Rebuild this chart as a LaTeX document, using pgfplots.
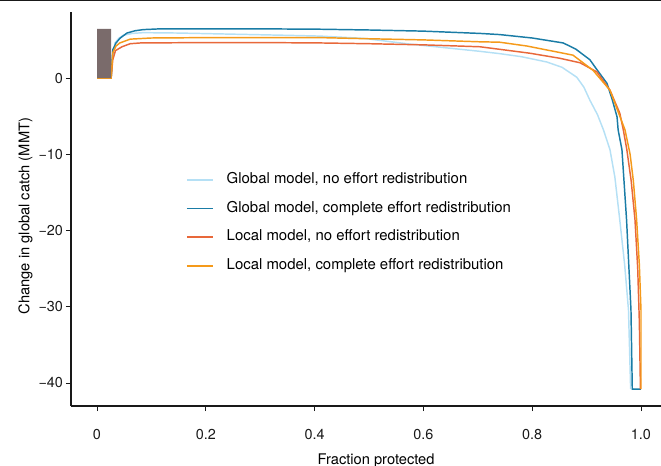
\documentclass[border=0pt]{standalone}
\usepackage{pgfplots}
\pgfplotsset{compat=1.18}
\usepackage{fontspec}
\setmainfont{TeX Gyre Heros}
\definecolor{lblue}{HTML}{B5E0F5}
\definecolor{dblue}{HTML}{1A7CA6}
\definecolor{lred}{HTML}{E8683A}
\definecolor{lorange}{HTML}{F59A1A}
\definecolor{rectc}{HTML}{7A6B6B}
\pgfplotsset{
  limg/.style={legend image code/.code={\draw[#1, line width=1.1pt] (0pt,0pt) -- (19.5pt,0pt); \path (24pt,0pt);}},
}
\begin{document}
\begin{tikzpicture}
\path[use as bounding box, clip] (-53.25pt,-44.25pt) rectangle (442.5pt,304.5pt);
\draw[line width=1.6pt, black!90] (-53.25pt,304.5pt) -- (442.5pt,304.5pt);
\begin{axis}[
  at={(0pt,0pt)}, anchor=south west,
  scale only axis,
  width=442.5pt, height=295.5pt,
  xmin=-0.0478, xmax=1.0368,
  ymin=-43.02, ymax=8.66,
  axis x line*=bottom, axis y line*=left,
  axis line style={-, line width=0.8pt, black!90},
  tick align=outside,
  major tick length=3.75pt,
  tick style={black!90, line width=0.6pt},
  xtick={0,0.2,0.4,0.6,0.8,1.0},
  xticklabels={0,0.2,0.4,0.6,0.8,1.0},
  ytick={-40,-30,-20,-10,0},
  yticklabels={−40,−30,−20,−10,0},
  ticklabel style={font=\fontsize{10.8}{12}\selectfont, black!90},
  xticklabel style={yshift=-10.5pt},
  yticklabel style={xshift=1.25pt},
  xlabel={Fraction protected},
  ylabel={Change in global catch (MMT)},
  label style={font=\fontsize{11}{13}\selectfont},
  xlabel style={at={(axis cs:0.513,-43.02)}, anchor=base, inner sep=0pt, yshift=-43.5pt},
  ylabel style={at={(axis description cs:-0.0771,0.482)}, anchor=center},
  legend style={draw=none, fill=none, at={(axis cs:0.1636,-12.4)}, anchor=north west,
    font=\fontsize{11.2}{13}\selectfont, inner sep=0pt, row sep=11pt,
    nodes={inner xsep=5.25pt, inner ysep=0pt, text height=8pt, text depth=2.5pt}},
  legend cell align=left,
  every axis plot/.append style={line width=1.1pt},
]
\addplot[color=lblue, limg=lblue] coordinates {
(0,0) (0.026,0) (0.028,2.5) (0.033,4.6) (0.04,5.2) (0.048,5.6) (0.065,5.85) (0.085,5.95)
(0.15,5.9) (0.25,5.75) (0.35,5.6) (0.41,5.5) (0.49,5.2) (0.575,4.45) (0.65,3.9) (0.704,3.5)
(0.74,3.2) (0.78,2.8) (0.827,2.1) (0.855,1.4) (0.882,0.1) (0.895,-1.2) (0.906,-2.9)
(0.92,-4.8) (0.931,-6.8) (0.943,-9.4) (0.952,-13) (0.961,-18.6) (0.97,-24.5) (0.977,-30.4)
(0.981,-40.8)};
\addlegendentry{Global model, no effort redistribution}
\addplot[color=dblue, limg=dblue] coordinates {
(0,0) (0.026,0) (0.029,3.7) (0.035,4.6) (0.042,5.2) (0.055,5.9) (0.07,6.2) (0.085,6.35)
(0.116,6.45) (0.2,6.45) (0.3,6.45) (0.41,6.4) (0.5,6.3) (0.6,6.15) (0.704,5.85) (0.74,5.7)
(0.8,5.25) (0.857,4.6) (0.88,3.8) (0.906,2.4) (0.92,1.0) (0.9375,-0.7) (0.947,-2.8)
(0.956,-5.1) (0.958,-6.8) (0.965,-9.4) (0.9735,-18.6) (0.9816,-30.4) (0.984,-40.8) (1.0,-40.8)};
\addlegendentry{Global model, complete effort redistribution}
\addplot[color=lred, limg=lred] coordinates {
(0,0) (0.026,0) (0.029,2.4) (0.034,3.6) (0.046,4.1) (0.061,4.5) (0.08,4.6) (0.2,4.65)
(0.3,4.65) (0.41,4.6) (0.5,4.5) (0.6,4.35) (0.704,4.1) (0.796,3.25) (0.85,2.6) (0.888,2.0)
(0.919,0.8) (0.943,-1.6) (0.961,-4.6) (0.9675,-6.8) (0.974,-9.4) (0.982,-13.5) (0.989,-18.6)
(0.994,-25) (0.997,-32) (0.999,-40.8)};
\addlegendentry{Local model, no effort redistribution}
\addplot[color=lorange, limg=lorange] coordinates {
(0,0) (0.026,0) (0.029,3.3) (0.035,4.2) (0.042,4.6) (0.061,5.1) (0.1,5.25) (0.2,5.3)
(0.3,5.3) (0.41,5.3) (0.5,5.15) (0.6,5.0) (0.704,4.75) (0.74,4.7) (0.79,4.2) (0.875,3.0)
(0.912,1.0) (0.943,-1.6) (0.9706,-6.8) (0.98,-10) (0.986,-13.5) (0.992,-18.6) (0.997,-24.5)
(1.0,-30.4) (1.0,-40.8)};
\addlegendentry{Local model, complete effort redistribution}
\addplot[fill=rectc, draw=none, forget plot] coordinates {(0,0) (0,6.45) (0.026,6.45) (0.026,0) (0,0)};
\end{axis}
\end{tikzpicture}
\end{document}
